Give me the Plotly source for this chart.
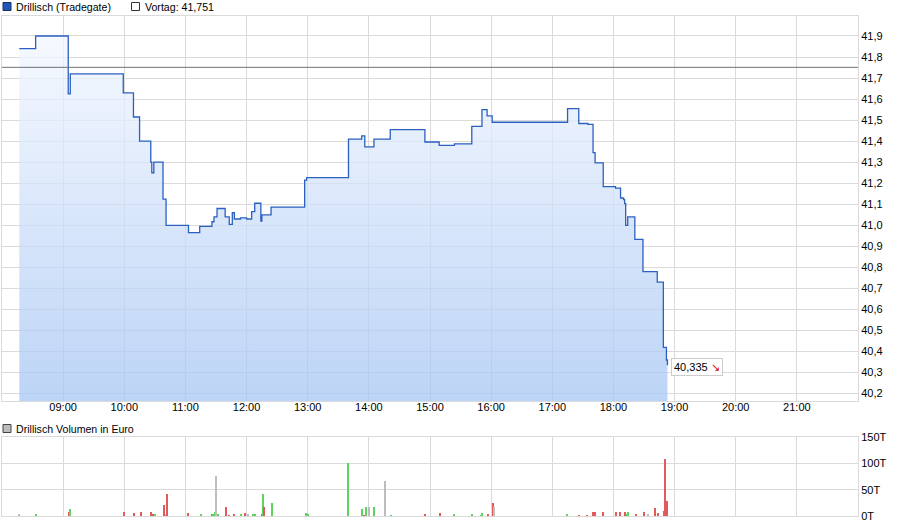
import plotly.graph_objects as go

DAY = "2015-06-12"
prev_close = 41.751
last_label = "40,335"

price_times = ["08:17", "08:33", "09:05", "09:07", "09:59", "10:09", "10:15", "10:26",
               "10:27", "10:29", "10:38", "10:41", "11:03", "11:14", "11:26", "11:28",
               "11:31", "11:39", "11:43", "11:46", "11:48", "11:54", "12:00", "12:05",
               "12:08", "12:14", "12:15", "12:24", "12:57", "12:59", "13:40", "13:53",
               "13:56", "14:05", "14:21", "14:55", "15:09", "15:24", "15:41", "15:51",
               "15:56", "16:01", "17:15", "17:26", "17:35", "17:40", "17:42", "17:50",
               "18:02", "18:07", "18:10", "18:11", "18:12", "18:14", "18:21", "18:29",
               "18:43", "18:49", "18:52", "18:53"]
price_values = [41.84, 41.90, 41.625, 41.72, 41.63, 41.515, 41.40, 41.30,
                41.25, 41.30, 41.125, 41.00, 40.965, 40.995, 41.017, 41.04,
                41.08, 41.04, 41.005, 41.06, 41.03, 41.035, 41.03, 41.065,
                41.105, 41.02, 41.05, 41.087, 41.215, 41.227, 41.41, 41.425,
                41.373, 41.41, 41.455, 41.396, 41.38, 41.387, 41.47, 41.55,
                41.52, 41.49, 41.555, 41.484, 41.48, 41.346, 41.297, 41.184,
                41.177, 41.13, 41.122, 41.103, 41.00, 41.04, 40.933, 40.78,
                40.73, 40.42, 40.36, 40.335]

vol_times = ["08:17", "08:33", "09:06", "09:07", "10:00", "10:10", "10:16", "10:26",
             "10:28", "10:30", "10:39", "10:41", "10:42", "11:03", "11:15", "11:26",
             "11:27", "11:29", "11:30", "11:32", "11:40", "11:43", "11:48", "11:55",
             "11:59", "12:01", "12:06", "12:08", "12:15", "12:16", "12:17", "12:25",
             "12:58", "13:00", "13:40", "13:53", "13:55", "13:56", "13:57", "14:00",
             "14:05", "14:16", "14:22", "14:55", "15:10", "15:24", "15:41", "15:50",
             "15:51", "15:57", "16:02", "16:03", "17:15", "17:26", "17:34", "17:40",
             "17:42", "17:50", "18:03", "18:07", "18:11", "18:13", "18:14", "18:22",
             "18:30", "18:34", "18:41", "18:44", "18:50", "18:51", "18:53"]
vol_values = [2.5, 4.4, 8, 14, 8, 6, 8, 8,
              3, 2.5, 21.5, 4.4, 42, 6, 2.5, 4,
              2.5, 8, 76.6, 4.4, 17.7, 1, 2.5, 2,
              5, 4, 4, 2, 2, 42, 17, 25,
              6, 2, 100, 14, 1, 1.5, 17, 17,
              17, 66, 1, 4, 6, 4.4, 4.4, 1,
              5.7, 4.4, 25, 17.7, 2.5, 1, 1, 8,
              8, 8, 8, 8, 8, 4.4, 8, 4.4,
              8, 4.4, 16, 6, 10, 109, 29]
vol_dir = ["flat", "up", "down", "up", "down", "down", "down", "down",
           "down", "up", "down", "flat", "down", "down", "up", "down",
           "up", "up", "flat", "up", "down", "down", "down", "up",
           "down", "flat", "up", "up", "down", "up", "down", "up",
           "up", "up", "up", "up", "down", "down", "up", "flat",
           "up", "flat", "up", "down", "down", "up", "up", "up",
           "up", "down", "down", "flat", "up", "down", "down", "down",
           "down", "down", "down", "down", "down", "up", "up", "down",
           "down", "flat", "down", "down", "down", "down", "down"]

dir_colors = {"up": "#5fd35f", "down": "#e05c5c", "flat": "#bdbdbd"}

px = [f"{DAY} {t}" for t in price_times]
vx = [f"{DAY} {t}" for t in vol_times]

fig = go.Figure()

fig.add_trace(go.Scatter(
    x=px, y=price_values, mode="lines", line_shape="hv",
    line=dict(color="#2b60c0", width=1.3),
    fill="tozeroy",
    fillgradient=dict(type="vertical", start=40.165, stop=41.9,
                      colorscale=[[0, "rgba(166,198,243,0.75)"],
                                  [1, "rgba(243,247,255,0.75)"]]),
    hoverinfo="skip", showlegend=False, xaxis="x", yaxis="y",
))

fig.add_trace(go.Bar(
    x=vx, y=vol_values, width=70000,
    marker=dict(color=[dir_colors[d] for d in vol_dir], line_width=0),
    hoverinfo="skip", showlegend=False, xaxis="x2", yaxis="y2",
))

grid = "#dadada"
xr = [f"{DAY} 08:00", f"{DAY} 22:00"]
hours = [f"{DAY} {h:02d}:00" for h in range(9, 22)]

fig.update_layout(
    width=900, height=526,
    margin=dict(l=2, r=42, t=16, b=10),
    paper_bgcolor="white", plot_bgcolor="white",
    separators=",.",
    font=dict(family="Liberation Sans, Arial, sans-serif", size=11, color="#000"),
    bargap=0,
    xaxis=dict(domain=[0, 1], anchor="y", type="date", range=xr,
               tickvals=hours, tickformat="%H:%M", ticks="", ticklabelstandoff=-4,
               showgrid=True, gridcolor=grid, showline=True, linecolor=grid,
               mirror=True, zeroline=False),
    yaxis=dict(domain=[0.23, 1], anchor="x", side="right",
               range=[40.165, 41.995], dtick=0.1, tickformat=".1f", ticks="",
               showgrid=True, gridcolor=grid, showline=True, linecolor=grid,
               mirror=True, zeroline=False),
    xaxis2=dict(domain=[0, 1], anchor="y2", type="date", range=xr,
                tickvals=hours, showticklabels=False, ticks="",
                showgrid=True, gridcolor=grid, showline=True, linecolor=grid,
                mirror=True, zeroline=False),
    yaxis2=dict(domain=[0, 0.158], anchor="x2", side="right", range=[0, 150],
                tickvals=[0, 50, 100, 150], ticktext=["0T", "50T", "100T", "150T"],
                ticks="", showgrid=True, gridcolor=grid, showline=True,
                linecolor=grid, mirror=True, zeroline=False),
)

# previous close reference line
fig.add_shape(type="line", xref="paper", yref="y", x0=0, x1=1,
              y0=prev_close, y1=prev_close, line=dict(color="#707070", width=1),
              layer="above")

# legend boxes
def pxx(p):
    return (p - 2) / 856

def pxy(p):
    return (516 - p) / 500

fig.add_shape(type="rect", xref="paper", yref="paper",
              x0=pxx(3), x1=pxx(11), y0=pxy(10.5), y1=pxy(2.5),
              fillcolor="#1f56b8", line=dict(color="#1a2f5a", width=1))
fig.add_shape(type="rect", xref="paper", yref="paper",
              x0=pxx(131.5), x1=pxx(139.5), y0=pxy(10.5), y1=pxy(2.5),
              fillcolor="white", line=dict(color="#333", width=1))
fig.add_shape(type="rect", xref="paper", yref="paper",
              x0=pxx(3), x1=pxx(11), y0=pxy(432.5), y1=pxy(424.5),
              fillcolor="#bdbdbd", line=dict(color="#444", width=1))

legend_font = dict(size=10.6)
fig.add_annotation(text="Drillisch (Tradegate)", xref="paper", yref="paper",
                   x=pxx(14), y=pxy(6.5), xanchor="left", yanchor="middle",
                   showarrow=False, font=legend_font)
fig.add_annotation(text=f"Vortag: {prev_close:.3f}".replace(".", ","),
                   xref="paper", yref="paper",
                   x=pxx(143), y=pxy(6.5), xanchor="left", yanchor="middle",
                   showarrow=False, font=legend_font)
fig.add_annotation(text="Drillisch Volumen in Euro", xref="paper", yref="paper",
                   x=pxx(14), y=pxy(428.5), xanchor="left", yanchor="middle",
                   showarrow=False, font=legend_font)

# last price box
fig.add_annotation(text=f"{last_label} <span style='color:#e00000'>&#8600;</span>",
                   x=px[-1], y=price_values[-1], xref="x", yref="y",
                   xanchor="left", yanchor="middle", xshift=4, yshift=-2,
                   showarrow=False, bgcolor="white", bordercolor="#cccccc",
                   borderwidth=1, borderpad=2)

fig.write_html("out.html", config={"displayModeBar": False},
               post_script="document.body.style.margin='0';")
